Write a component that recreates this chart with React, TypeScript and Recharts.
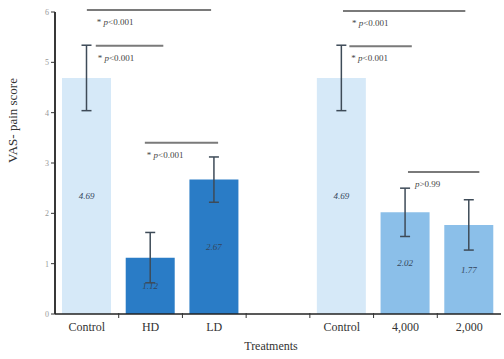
import React from "react";
import {
  BarChart,
  Bar,
  Cell,
  XAxis,
  YAxis,
  ErrorBar,
  LabelList,
  ReferenceLine,
} from "recharts";

// treatment groups (empty slot splits the two experiments)
const categories = ["Control", "HD", "LD", "", "Control", "4,000", "2,000"];
const means = [4.69, 1.12, 2.67, null, 4.69, 2.02, 1.77];
const errors = [0.65, 0.5, 0.45, null, 0.65, 0.48, 0.5];
const barColors = ["#d6e9f8", "#2a7cc6", "#2a7cc6", "#ffffff", "#d6e9f8", "#8bbfe9", "#8bbfe9"];
const yTicks = [0, 1, 2, 3, 4, 5, 6];

// significance brackets, x in slot units (0..7), y in score units
const sigX1 = [0.5, 0.64, 1.41, 4.52, 4.62, 5.54];
const sigX2 = [2.45, 1.7, 2.56, 6.44, 5.6, 6.66];
const sigY = [6.04, 5.33, 3.4, 6.02, 5.32, 2.82];
const sigText = ["<0.001", "<0.001", "<0.001", "<0.001", "<0.001", ">0.99"];
const sigStar = [true, true, true, true, true, false];
const sigDx = [10, 2, 2, 9, 2, 7];

const data = categories.map((name, i) => ({
  name,
  value: means[i],
  err: errors[i],
}));

const serif = "'Liberation Serif', 'Times New Roman', serif";

const SigLabel = (i: number) => (props: any) => {
  const vb = props.viewBox || {};
  return (
    <text
      x={vb.x + sigDx[i]}
      y={vb.y + 15}
      fontSize={9}
      fontFamily={serif}
      fill="#444"
    >
      {sigStar[i] ? "* " : ""}
      <tspan fontStyle="italic">p</tspan>
      {sigText[i]}
    </text>
  );
};

// category label plus a small tick mark on the boundary to its left
const CatTick = (props: any) => {
  const { x, y, payload, index } = props;
  const half = payload?.offset ?? 31.86;
  return (
    <g>
      {index > 0 && (
        <line x1={x - half} x2={x - half} y1={y - 9} y2={y - 4} stroke="#333" strokeWidth={1} />
      )}
      <text
        x={x}
        y={y}
        dy="0.71em"
        textAnchor="middle"
        fontSize={12}
        fontFamily={serif}
        fill="#333"
      >
        {payload.value}
      </text>
    </g>
  );
};

export default function App() {
  return (
    <div style={{ position: "absolute", left: 0, top: 0, background: "#fff" }}>
      <BarChart
        width={504}
        height={359}
        data={data}
        margin={{ top: 12, right: 3, left: 0, bottom: 0 }}
        barSize={49}
      >
        <XAxis
          dataKey="name"
          axisLine={{ stroke: "#222", strokeWidth: 1.5 }}
          tickLine={false}
          tickSize={3}
          tickMargin={5}
          height={45}
          interval={0}
          tick={<CatTick />}
          label={{
            value: "Treatments",
            position: "insideBottom",
            offset: 9,
            dx: -7,
            fill: "#333",
            fontSize: 12,
            fontFamily: serif,
          }}
        />
        <XAxis
          xAxisId="num"
          type="number"
          dataKey={() => 0}
          domain={[0, 7]}
          hide
          allowDataOverflow
        />
        <YAxis
          domain={[0, 6]}
          ticks={yTicks}
          width={55}
          tickSize={4}
          axisLine={{ stroke: "#222", strokeWidth: 1.8 }}
          tickLine={{ stroke: "#333" }}
          tick={{ fill: "#999", fontSize: 8, fontFamily: serif }}
          label={{
            value: "VAS- pain score",
            angle: -90,
            position: "insideLeft",
            offset: 12,
            fill: "#333",
            fontSize: 13,
            fontFamily: serif,
          }}
        />
        <Bar dataKey="value" isAnimationActive={false}>
          {data.map((d, i) => (
            <Cell key={`c-${i}`} fill={barColors[i]} />
          ))}
          <ErrorBar dataKey="err" width={5} stroke="#3e4b58" strokeWidth={1.5} />
          <LabelList
            dataKey="value"
            position="center"
            fontSize={9}
            fontStyle="italic"
            fontFamily={serif}
            fill="#34465c"
            formatter={(v: any) => (v == null ? "" : Number(v).toFixed(2))}
          />
        </Bar>
        {sigY.map((y, i) => (
          <ReferenceLine
            key={`s-${i}`}
            xAxisId="num"
            segment={[
              { x: sigX1[i], y },
              { x: sigX2[i], y },
            ]}
            stroke="#7a7a7a"
            strokeWidth={2}
            ifOverflow="visible"
            label={SigLabel(i)}
          />
        ))}
      </BarChart>
    </div>
  );
}
